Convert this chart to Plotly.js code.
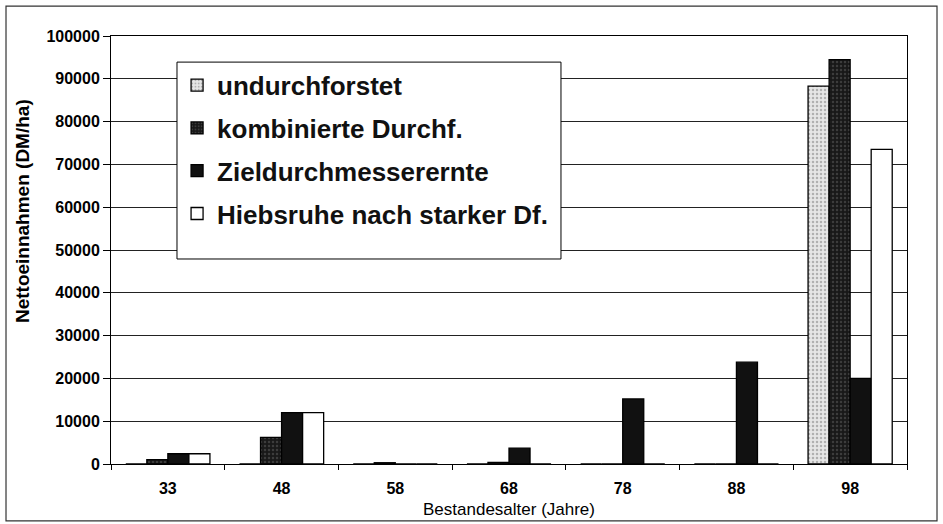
<!DOCTYPE html>
<html>
<head>
<meta charset="utf-8">
<script src="https://cdn.plot.ly/plotly-3.0.1.min.js"></script>
<style>
html,body{margin:0;padding:0;background:#fff;}
#chart{width:943px;height:524px;}
</style>
</head>
<body>
<div id="chart"></div>
<script>
// Data
var ages = ["33", "48", "58", "68", "78", "88", "98"];
var undurchforstet = [0, 0, 0, 0, 0, 0, 88300];
var kombiniert = [1000, 6200, 300, 400, 0, 0, 94500];
var zieldurchmesser = [2400, 12000, 0, 3700, 15200, 23800, 20000];
var hiebsruhe = [2400, 12000, 0, 0, 0, 0, 73500];
var seriesNames = ["undurchforstet", "kombinierte Durchf.", "Zieldurchmesserernte", "Hiebsruhe nach starker Df."];
var yTicks = [0, 10000, 20000, 30000, 40000, 50000, 60000, 70000, 80000, 90000, 100000];
var xTitle = "Bestandesalter (Jahre)";
var yTitle = "Nettoeinnahmen (DM/ha)";

var FONT = "Arial, 'Liberation Sans', sans-serif";
var outline = {color: "#000", width: 1.3};

var traces = [
  {type: "bar", name: seriesNames[0], x: ages, y: undurchforstet, legendgroup: "a",
   marker: {color: "#dcdcdc", line: outline,
            pattern: {shape: ".", bgcolor: "#e6e6e6", fgcolor: "#b0b0b0", size: 4, solidity: 0.3}}},
  {type: "bar", name: seriesNames[1], x: ages, y: kombiniert, legendgroup: "b",
   marker: {color: "#1c1c1c", line: outline,
            pattern: {shape: ".", bgcolor: "#181818", fgcolor: "#3c3c3c", size: 4, solidity: 0.3}}},
  {type: "bar", name: seriesNames[2], x: ages, y: zieldurchmesser, legendgroup: "c",
   marker: {color: "#111111", line: outline}},
  {type: "bar", name: seriesNames[3], x: ages, y: hiebsruhe, legendgroup: "d",
   marker: {color: "#ffffff", line: outline}}
];

var layout = {
  width: 943, height: 524,
  margin: {l: 111, r: 36, t: 36, b: 60},
  paper_bgcolor: "#fff", plot_bgcolor: "#fff",
  font: {family: FONT, color: "#000"},
  barmode: "group", bargap: 0.26, bargroupgap: 0,
  showlegend: true,
  legend: {
    x: 0.083, y: 0.94, xanchor: "left", yanchor: "top",
    bgcolor: "rgba(0,0,0,0)", borderwidth: 0,
    font: {family: FONT, size: 26, color: "#111", weight: "bold"},
    tracegroupgap: 6, traceorder: "grouped", itemwidth: 30
  },
  xaxis: {
    type: "category", automargin: false,
    showline: true, linecolor: "#000", linewidth: 1, mirror: true,
    ticks: "outside", ticklen: 5, tickcolor: "#000", tickson: "boundaries",
    ticklabelstandoff: 10,
    tickfont: {family: FONT, size: 16, weight: "bold"},
    title: {text: xTitle, font: {family: FONT, size: 17}, standoff: 6},
    showgrid: false
  },
  yaxis: {
    range: [0, 100000], tickvals: yTicks, automargin: false,
    ticktext: yTicks.map(String),
    showline: true, linecolor: "#000", linewidth: 1, mirror: true,
    ticks: "outside", ticklen: 7, tickcolor: "#000",
    tickfont: {family: FONT, size: 16, weight: "bold"},
    showgrid: true, gridcolor: "#222", gridwidth: 1,
    zeroline: false
  },
  annotations: [
    {text: yTitle, xref: "paper", yref: "paper", x: -0.1118, y: 0.591,
     xanchor: "center", yanchor: "middle", textangle: -90, showarrow: false,
     font: {family: FONT, size: 19, weight: "bold", color: "#000"}}
  ],
  shapes: [
    {type: "rect", xref: "paper", yref: "paper",
     x0: -0.1319, x1: 1.0377, y0: -0.133, y1: 1.070,
     line: {color: "#333", width: 1.2}, fillcolor: "rgba(0,0,0,0)", layer: "below"},
    {type: "rect", xref: "paper", yref: "paper",
     x0: 0.0829, x1: 0.5653, y0: 0.479, y1: 0.939,
     line: {color: "#000", width: 1}, fillcolor: "#ffffff", layer: "above"}
  ]
};

Plotly.newPlot("chart", traces, layout, {displayModeBar: false, staticPlot: true});
</script>
</body>
</html>
